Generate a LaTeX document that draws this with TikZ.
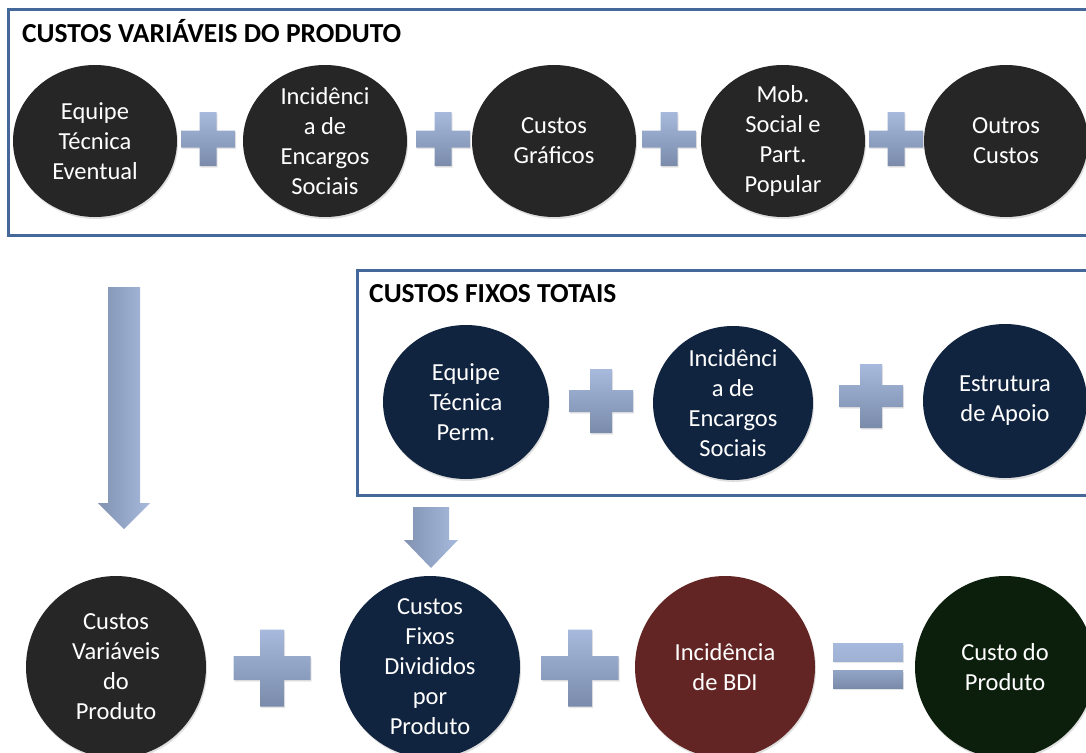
\documentclass[tikz,border=0pt]{standalone}
\usepackage{fontspec}
\setmainfont{Carlito}
\usetikzlibrary{shapes.geometric, shadows}

\definecolor{bubgray}{HTML}{262626}
\definecolor{bubnavy}{HTML}{11243F}
\definecolor{bubred}{HTML}{632523}
\definecolor{bubgreen}{HTML}{0C1F0D}
\definecolor{frameblue}{HTML}{45689A}
\definecolor{steellt}{HTML}{A7BADD}
\definecolor{steeldk}{HTML}{7A8BAA}

\tikzset{
  bub/.style={ellipse, draw=none, inner sep=0pt,
    drop shadow={opacity=0.25, shadow xshift=1pt, shadow yshift=-2pt}},
  rowvar/.style={bub, fill=bubgray, minimum width=164pt, minimum height=152pt},
  rowfix/.style={bub, fill=bubnavy, minimum height=154pt},
  rowsum/.style={bub, minimum width=180pt, minimum height=182pt},
  bubtxt/.style={align=center, text=white, inner sep=0pt, font=\fontsize{24.5}{30}\selectfont},
  frame/.style={draw=frameblue, line width=3pt},
  boxtitle/.style={anchor=base west, inner sep=0pt, font=\fontsize{27.5}{32}\selectfont\bfseries},
  steel/.style={top color=steellt, bottom color=steeldk, draw=none,
    drop shadow={opacity=0.2, shadow xshift=1pt, shadow yshift=-1.5pt}},
  steelside/.style={left color=steeldk!85!steellt, right color=steellt, draw=none}
}

% plus sign: centre x, centre y, half size, half arm
\newcommand{\plusat}[4]{%
  \begin{scope}[shift={(#1,#2)}]
    \path[steel] (-#4,-#3) -- (#4,-#3) -- (#4,-#4) -- (#3,-#4) -- (#3,#4) -- (#4,#4)
      -- (#4,#3) -- (-#4,#3) -- (-#4,#4) -- (-#3,#4) -- (-#3,-#4) -- (-#4,-#4) -- cycle;
  \end{scope}}

% block arrow down: centre x, top y, head y, tip y, half shaft, half head
\newcommand{\downat}[6]{%
  \path[steelside] ({#1-#5},#2) -- ({#1+#5},#2) -- ({#1+#5},#3) -- ({#1+#6},#3)
    -- (#1,#4) -- ({#1-#6},#3) -- ({#1-#5},#3) -- cycle;}

\begin{document}
\begin{tikzpicture}[x=1pt, y=-1pt]
  \clip (0,0) rectangle (1086,752);
  \fill[white] (0,0) rectangle (1086,752);

  % variable costs
  \draw[frame] (8,10) rectangle (1100,235);
  \node[boxtitle] (tVar) at (22,43) {CUSTOS VARIÁVEIS DO PRODUTO};

  \node[rowvar] (eqVar) at (95,141) {};
  \node[bubtxt] (eqVarT) at (eqVar) {Equipe\\Técnica\\Eventual};
  \node[rowvar] (encVar) at (325,141) {};
  \node[bubtxt] (encVarT) at (encVar) {Incidênci\\a de\\Encargos\\Sociais};
  \node[rowvar] (graf) at (554,141) {};
  \node[bubtxt] (grafT) at (graf) {Custos\\Gráficos};
  \node[rowvar] (mob) at (783,141) {};
  \node[bubtxt] (mobT) at (mob) {Mob.\\Social e\\Part.\\Popular};
  \node[rowvar] (outros) at (1006,141) {};
  \node[bubtxt] (outrosT) at (outros) {Outros\\Custos};

  \plusat{208}{139}{27}{8.5}
  \plusat{443}{139}{27}{8.5}
  \plusat{669}{139}{27}{8.5}
  \plusat{896}{139}{27}{8.5}

  % fixed costs
  \draw[frame] (357,270) rectangle (1100,495);
  \node[boxtitle] (tFix) at (369,302) {CUSTOS FIXOS TOTAIS};

  \node[rowfix, minimum width=166pt] (eqFix) at (466,402) {};
  \node[bubtxt] (eqFixT) at (eqFix) {Equipe\\Técnica\\Perm.};
  \node[rowfix, minimum width=160pt] (encFix) at (733,403) {};
  \node[bubtxt] (encFixT) at (encFix) {Incidênci\\a de\\Encargos\\Sociais};
  \node[rowfix, minimum width=164pt] (apoio) at (1005,401) {};
  \node[bubtxt] (apoioT) at (apoio) {Estrutura\\de Apoio};

  \plusat{601}{401}{32}{11}
  \plusat{871}{396}{32}{11}

  % arrows down
  \downat{124}{287}{503}{529}{16}{26}
  \downat{431}{507}{540}{568}{18}{27}

  % product cost
  \node[rowsum, fill=bubgray] (var) at (116,667) {};
  \node[bubtxt] (varT) at (var) {Custos\\Variáveis\\do\\Produto};
  \node[rowsum, fill=bubnavy] (fix) at (430,667) {};
  \node[bubtxt] (fixT) at (fix) {Custos\\Fixos\\Divididos\\por\\Produto};
  \node[rowsum, fill=bubred] (bdi) at (725,667) {};
  \node[bubtxt] (bdiT) at (bdi) {Incidência\\de BDI};
  \node[rowsum, fill=bubgreen] (total) at (1005,667) {};
  \node[bubtxt] (totalT) at (total) {Custo do\\Produto};

  \plusat{272}{668}{38.5}{12}
  \plusat{580}{668}{38.5}{12}

  % equals
  \path[top color=steellt, bottom color=steellt!80!steeldk, draw=none,
    drop shadow={opacity=0.2, shadow xshift=1pt, shadow yshift=-1.5pt}] (833,643) rectangle (903,661);
  \path[top color=steellt!55!steeldk, bottom color=steeldk, draw=none,
    drop shadow={opacity=0.2, shadow xshift=1pt, shadow yshift=-1.5pt}] (833,670) rectangle (903,688);
\end{tikzpicture}
\end{document}
